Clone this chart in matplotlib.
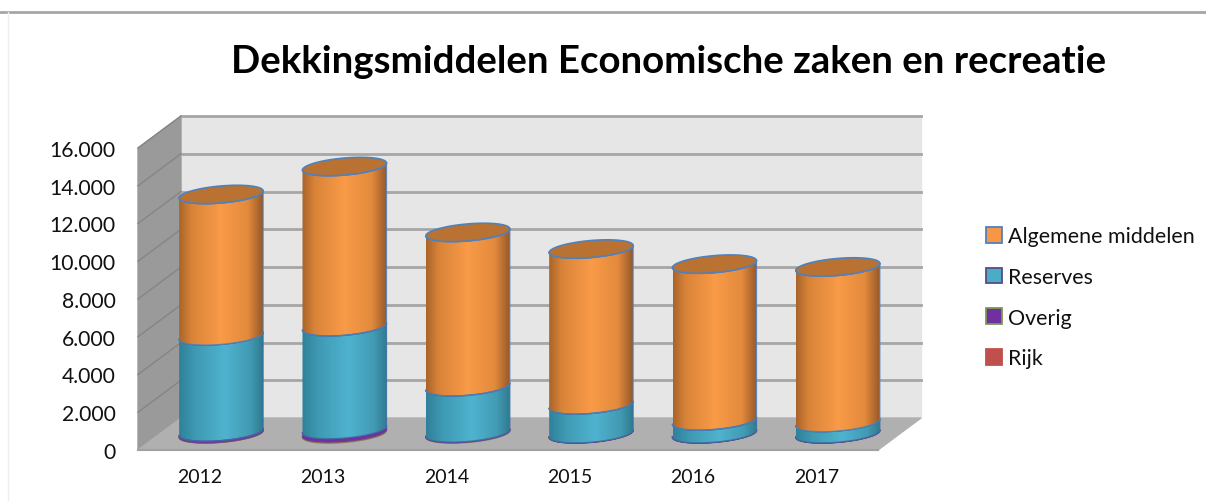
import numpy as np
import matplotlib
matplotlib.use('Agg')
import matplotlib.pyplot as plt
from matplotlib.colors import LinearSegmentedColormap
from matplotlib.lines import Line2D
from matplotlib.patches import Patch, Polygon

plt.rcParams['font.family'] = ['Lato', 'DejaVu Sans']

years = ['2012', '2013', '2014', '2015', '2016', '2017']
rijk = [20, 60, 30, 10, 10, 10]
overig = [80, 180, 30, 10, 10, 10]
reserves = [5100, 5440, 2440, 1520, 670, 590]
algemeen = [7490, 8490, 8180, 8260, 8310, 8240]
series_names = ['Rijk', 'Overig', 'Reserves', 'Algemene middelen']
y_ticks = [0, 2000, 4000, 6000, 8000, 10000, 12000, 14000, 16000]
y_labels = ['0', '2.000', '4.000', '6.000', '8.000', '10.000', '12.000', '14.000', '16.000']

W, H = 1206, 502
fig = plt.figure(figsize=(W / 100, H / 100), dpi=100, facecolor='white')
# axes = front plane of the fake 3D box, pixel positions
ax = fig.add_axes([138 / W, 1 - 451 / H, 740 / W, 302 / H])
ax.patch.set_visible(False)

px_x = 6 / 740      # data units per pixel
px_y = 16000 / 302
dx = 43 * px_x      # depth of the box
dy = 32 * px_y
half_w = 42 * px_x
half_h = 8.5 * px_y
tilt = 3.5 * px_y


def box_poly(pts, color, z):
    ax.add_patch(Polygon(pts, closed=True, fc=color, ec=color, lw=1, zorder=z, clip_on=False))


x0, x1 = -0.5, 5.5
box_poly([(x0 + dx, dy), (x1 + dx, dy), (x1 + dx, 16000 + dy), (x0 + dx, 16000 + dy)], '#e6e6e6', 1)
box_poly([(x0, 0), (x0 + dx, dy), (x0 + dx, 16000 + dy), (x0, 16000)], '#9a9a9a', 1)
box_poly([(x0, 0), (x1, 0), (x1 + dx, dy), (x0 + dx, dy)], '#b0b0b0', 1)
ax.plot([x0, x1], [0, 0], color='#a0a0a0', lw=1.5, zorder=2, clip_on=False)
for v in y_ticks[1:]:
    ax.plot([x0 + dx, x1 + dx], [v + dy, v + dy], color='#a6a6a6', lw=2, zorder=2, clip_on=False)
    ax.plot([x0, x0 + dx], [v, v + dy], color='#858585', lw=1, zorder=2, clip_on=False)

orange_cm = LinearSegmentedColormap.from_list('o', [(0, '#a9642a'), (0.15, '#d98338'), (0.5, '#f99b48'),
                                                    (0.82, '#e38a3c'), (1, '#96592a')])
blue_cm = LinearSegmentedColormap.from_list('b', [(0, '#2f8199'), (0.2, '#3f9ab3'), (0.55, '#4fb3cf'),
                                                  (0.85, '#429ab3'), (1, '#2f7a90')])
purple_cm = LinearSegmentedColormap.from_list('p', ['#7030a0', '#7030a0'])
red_cm = LinearSegmentedColormap.from_list('r', ['#9c6a3a', '#c0504d'])
seg_cmaps = [red_cm, purple_cm, blue_cm, orange_cm]
seg_edges = ['#8a7a4a', '#6a3a9a', '#3b6ea5', '#4f81bd']
gradient = np.linspace(0, 1, 256).reshape(1, -1)


def front_arc(cx, cy):
    t = np.linspace(np.pi, 2 * np.pi, 60)
    return cx + half_w * np.cos(t), cy + half_h * np.sin(t) + tilt * np.cos(t)


def draw_segment(cx, low, high, cmap, edge, z):
    xb, yb = front_arc(cx, low)
    xt, yt = front_arc(cx, high)
    pts = np.column_stack([np.r_[xb, xt[::-1]], np.r_[yb, yt[::-1]]])
    shape = Polygon(pts, closed=True, fc='none', ec='none', transform=ax.transData)
    ax.add_patch(shape)
    im = ax.imshow(gradient, cmap=cmap, aspect='auto', zorder=z,
                   extent=(cx - half_w, cx + half_w, low - 2 * half_h, high + 2 * half_h))
    im.set_clip_path(shape)
    im.set_clip_box(fig.bbox)
    ax.plot(pts[:, 0], pts[:, 1], color=edge, lw=0.9, alpha=0.85, zorder=z + 0.1, clip_on=False)
    ax.plot(xt, yt, color=edge, lw=1.0, zorder=z + 0.2, clip_on=False)


stack = np.array([rijk, overig, reserves, algemeen], dtype=float)
tops = np.cumsum(stack, axis=0)
for i in range(len(years)):
    cx = i + dx / 2
    base = dy / 2
    z = 3 + i
    low = base
    for s in range(4):
        high = base + tops[s, i]
        draw_segment(cx, low, high, seg_cmaps[s], seg_edges[s], z + s * 0.2)
        low = high
    t = np.linspace(0, 2 * np.pi, 120)
    ax.add_patch(Polygon(np.column_stack([cx + half_w * np.cos(t), low + half_h * np.sin(t) + tilt * np.cos(t)]),
                         closed=True, fc='#b97231', ec='#4f81bd', lw=1.2, zorder=z + 0.9, clip_on=False))

ax.set_xlim(x0, x1)
ax.set_ylim(0, 16000)
ax.set_xticks(range(len(years)), years)
ax.set_yticks(y_ticks, y_labels)
ax.tick_params(length=0, colors='#111111')
ax.tick_params(axis='x', pad=13, labelsize=14)
ax.tick_params(axis='y', pad=16, labelsize=15.2)
for sp in ax.spines.values():
    sp.set_visible(False)

legend_colors = ['#f79646', '#4bacc6', '#7030a0', '#c0504d']
legend_edges = ['#4f81bd', '#5a4a8a', '#7a9a50', '#c0504d']
handles = [Patch(fc=c, ec=e, lw=1.3) for c, e in zip(legend_colors, legend_edges)]
fig.legend(handles, series_names[::-1], loc='upper left', bbox_to_anchor=(967 / W, 1 - 208 / H), frameon=False,
           fontsize=15.4, labelspacing=0.97, handlelength=0.75, handleheight=0.75, handletextpad=0.25,
           labelcolor='#111111')

fig.text(669 / W, 1 - 62 / H, 'Dekkingsmiddelen Economische zaken en recreatie', ha='center', va='center',
         fontsize=27.6, fontweight='bold', color='black')

# thin frame of the pasted screenshot
fig.add_artist(Line2D([0, 1], [1 - 13 / H, 1 - 13 / H], color='#a6a6a6', lw=2))
fig.add_artist(Line2D([8 / W, 8 / W], [0, 1 - 13 / H], color='#efefef', lw=1))

fig.savefig('out.png', dpi=100)
